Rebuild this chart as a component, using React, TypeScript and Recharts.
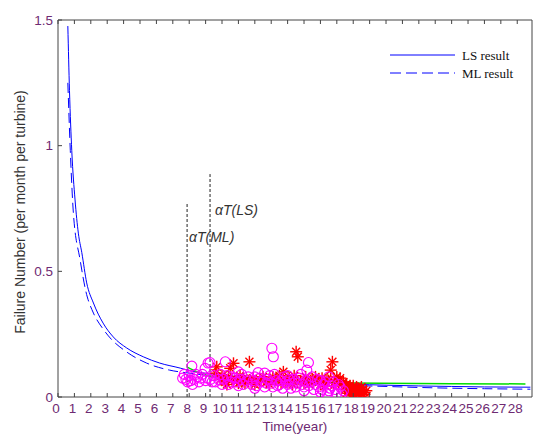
import { ComposedChart, Line, Scatter, XAxis, YAxis, ReferenceLine } from "recharts"

// fitted curves, [time (year), failures per month per turbine]
const lsCurve = [
  [0.6, 1.476], [0.7, 1.22], [0.84, 0.98], [1.04, 0.784], [1.24, 0.652], [1.45, 0.575],
  [1.75, 0.454], [2.16, 0.374], [2.75, 0.294], [3.37, 0.239], [4.19, 0.195], [5.2, 0.16],
  [6.2, 0.135], [7.45, 0.115], [8, 0.105], [10, 0.088], [12, 0.075], [14, 0.066],
  [16, 0.058], [18, 0.051], [20, 0.047], [22, 0.044], [24, 0.042], [26, 0.04], [28.8, 0.039],
]
const mlCurve = [
  [0.6, 1.25], [0.75, 0.98], [0.94, 0.73], [1.35, 0.545], [1.7, 0.42], [2.16, 0.334],
  [2.7, 0.275], [3.18, 0.235], [4.19, 0.179], [5.4, 0.135], [6.8, 0.107], [8, 0.095],
  [10, 0.08], [12, 0.068], [14, 0.059], [16, 0.052], [18, 0.046], [20, 0.042],
  [22, 0.038], [24, 0.035], [26, 0.033], [28.8, 0.031],
]
const greenFit = [
  [7.85, 0.12], [8.5, 0.1], [9.4, 0.08], [11, 0.07], [13.8, 0.06], [17.6, 0.056],
  [24, 0.053], [28.5, 0.052],
]

// observed failure rates
const circles = [
  [7.6, 0.075], [7.7, 0.09], [7.8, 0.07], [7.9, 0.06], [8.0, 0.085], [8.1, 0.065], [8.16, 0.123],
  [8.2, 0.05], [8.3, 0.07], [8.4, 0.09], [8.5, 0.08], [8.6, 0.06], [8.7, 0.075], [8.8, 0.09],
  [8.97, 0.114], [9.0, 0.065], [9.1, 0.075], [9.15, 0.135], [9.27, 0.137], [9.3, 0.07], [9.4, 0.06],
  [9.5, 0.085], [9.6, 0.06], [9.8, 0.07], [9.9, 0.09], [10.0, 0.05], [10.1, 0.07], [10.2, 0.14],
  [10.3, 0.085], [10.4, 0.05], [10.5, 0.06], [10.6, 0.08], [10.8, 0.075], [10.9, 0.06], [11.0, 0.045],
  [11.0, 0.1], [11.1, 0.07], [11.2, 0.09], [11.3, 0.05], [11.5, 0.065], [11.6, 0.08], [11.8, 0.05],
  [11.9, 0.065], [12.0, 0.08], [12.0, 0.035], [12.1, 0.045], [12.2, 0.097], [12.3, 0.075], [12.4, 0.06],
  [12.6, 0.04], [12.6, 0.095], [12.7, 0.055], [12.8, 0.07], [12.9, 0.085], [13.0, 0.055], [13.04, 0.194],
  [13.1, 0.04], [13.13, 0.16], [13.2, 0.09], [13.3, 0.065], [13.4, 0.045], [13.5, 0.05], [13.6, 0.065],
  [13.7, 0.035], [13.8, 0.08], [13.9, 0.06], [14.0, 0.05], [14.0, 0.085], [14.1, 0.07], [14.2, 0.035],
  [14.3, 0.055], [14.4, 0.07], [14.5, 0.04], [14.6, 0.055], [14.7, 0.075], [14.8, 0.09], [14.9, 0.05],
  [15.0, 0.04], [15.0, 0.025], [15.1, 0.065], [15.17, 0.107], [15.27, 0.137], [15.3, 0.045], [15.4, 0.06],
  [15.5, 0.08], [15.6, 0.03], [15.7, 0.05], [15.8, 0.07], [15.9, 0.04], [16.0, 0.02], [16.0, 0.065],
  [16.1, 0.03], [16.2, 0.05], [16.3, 0.06], [16.4, 0.012], [16.5, 0.025], [16.5, 0.08], [16.6, 0.035],
  [16.7, 0.045], [16.8, 0.06], [16.9, 0.03], [17.0, 0.015], [17.1, 0.05], [17.2, 0.04], [17.3, 0.012],
  [17.4, 0.025],
]
const stars = [
  [9.6, 0.095], [9.68, 0.12], [9.9, 0.07], [10.0, 0.085], [10.2, 0.06], [10.3, 0.05], [10.4, 0.08],
  [10.5, 0.114], [10.6, 0.07], [10.7, 0.134], [10.9, 0.065], [11.0, 0.055], [11.1, 0.085], [11.3, 0.075],
  [11.4, 0.055], [11.6, 0.065], [11.67, 0.14], [11.9, 0.075], [12.0, 0.05], [12.1, 0.06], [12.3, 0.07],
  [12.5, 0.08], [12.7, 0.06], [12.9, 0.05], [13.1, 0.08], [13.3, 0.07], [13.5, 0.085], [13.6, 0.055],
  [13.74, 0.1], [13.9, 0.06], [14.0, 0.065], [14.1, 0.075], [14.3, 0.05], [14.4, 0.085], [14.52, 0.18],
  [14.6, 0.06], [14.62, 0.16], [14.8, 0.065], [15.0, 0.055], [15.1, 0.08], [15.3, 0.05], [15.4, 0.065],
  [15.5, 0.07], [15.7, 0.08], [15.9, 0.06], [16.0, 0.05], [16.1, 0.075], [16.3, 0.045], [16.4, 0.07],
  [16.5, 0.065], [16.63, 0.107], [16.73, 0.14], [16.8, 0.045], [16.9, 0.055], [17.0, 0.08], [17.1, 0.065],
  [17.2, 0.075], [17.3, 0.05], [17.4, 0.06], [17.5, 0.045], [17.5, 0.03], [17.6, 0.015], [17.6, 0.05],
  [17.7, 0.04], [17.7, 0.03], [17.8, 0.02], [17.8, 0.045], [17.9, 0.035], [17.9, 0.01], [18.0, 0.01],
  [18.0, 0.045], [18.0, 0.03], [18.1, 0.025], [18.1, 0.005], [18.2, 0.015], [18.2, 0.04], [18.3, 0.035],
  [18.3, 0.01], [18.4, 0.02], [18.4, 0.03], [18.5, 0.01], [18.5, 0.04], [18.6, 0.028], [18.6, 0.01],
  [18.7, 0.018], [18.8, 0.025],
]

const xTicks = Array.from({ length: 29 }, (_, i) => i)
const yTicks = [0, 0.5, 1, 1.5]
const alphaML = { t: 7.87, top: 0.772 }
const alphaLS = { t: 9.27, top: 0.887 }

const toRows = (pts: number[][]) => pts.map(([t, v]) => ({ t, v }))

const W = 533
const H = 437
const PLOT_H = 377
const axisColor = "#444"
const tickColor = "#6e2a72"
const blue = "#0000ff"
const font = "Arial, Liberation Sans"

const XTick = ({ x, y, payload }: any) => (
  <g>
    <line x1={x} x2={x} y1={y} y2={y - 4} stroke={axisColor} />
    <line x1={x} x2={x} y1={y - PLOT_H} y2={y - PLOT_H + 4} stroke={axisColor} />
    <text x={x - 2} y={y + 16} textAnchor="middle" fill={tickColor} fontSize={13.5} fontFamily={font}>
      {payload.value}
    </text>
  </g>
)

const YTick = ({ x, y, payload }: any) => (
  <g>
    <line x1={x} x2={x + 4} y1={y} y2={y} stroke={axisColor} />
    <text x={x - 5} y={y + 4.5} textAnchor="end" fill={tickColor} fontSize={13.5} fontFamily={font}>
      {payload.value}
    </text>
  </g>
)

const Ring = ({ cx, cy }: any) => <circle cx={cx} cy={cy} r={5} fill="none" stroke="#ff00ff" strokeWidth={1.1} />

const Star = ({ cx, cy }: any) => (
  <g stroke="#ff0000" strokeWidth={1.4}>
    <line x1={cx - 6} x2={cx + 6} y1={cy} y2={cy} />
    <line x1={cx} x2={cx} y1={cy - 6} y2={cy + 6} />
    <line x1={cx - 4} x2={cx + 4} y1={cy - 4} y2={cy + 4} />
    <line x1={cx - 4} x2={cx + 4} y1={cy + 4} y2={cy - 4} />
  </g>
)

export default function App() {
  return (
    <div style={{ position: "relative", width: W, height: H, background: "#fff" }}>
      <style>{"body{margin:0}"}</style>
      <ComposedChart width={W} height={H} margin={{ top: 20, right: 1, left: 0, bottom: 0 }}>
        <XAxis
          dataKey="t"
          type="number"
          domain={[0, 28.9]}
          ticks={xTicks}
          interval={0}
          height={40}
          tickSize={0}
          tickMargin={0}
          tickLine={false}
          tick={<XTick />}
          stroke={axisColor}
          allowDataOverflow
        />
        <YAxis
          type="number"
          domain={[0, 1.5]}
          ticks={yTicks}
          width={58}
          tickSize={0}
          tickMargin={0}
          tickLine={false}
          tick={<YTick />}
          stroke={axisColor}
          allowDataOverflow
        />
        <ReferenceLine y={1.5} stroke={axisColor} />
        <ReferenceLine x={28.9} stroke={axisColor} />
        <ReferenceLine
          segment={[{ x: alphaML.t, y: 0 }, { x: alphaML.t, y: alphaML.top }]}
          stroke="#222"
          strokeDasharray="3 2"
        />
        <ReferenceLine
          segment={[{ x: alphaLS.t, y: 0 }, { x: alphaLS.t, y: alphaLS.top }]}
          stroke="#222"
          strokeDasharray="3 2"
        />
        <Line data={toRows(lsCurve)} dataKey="v" type="monotone" stroke={blue} strokeWidth={1} dot={false} isAnimationActive={false} />
        <Line data={toRows(mlCurve)} dataKey="v" type="monotone" stroke={blue} strokeWidth={1} strokeDasharray="10 5" dot={false} isAnimationActive={false} />
        <Scatter data={toRows(stars)} dataKey="v" shape={<Star />} isAnimationActive={false} />
        <Scatter data={toRows(circles)} dataKey="v" shape={<Ring />} isAnimationActive={false} />
        <Line data={toRows(greenFit)} dataKey="v" type="monotone" stroke="#00dd00" strokeWidth={1.5} dot={false} isAnimationActive={false} />
      </ComposedChart>

      <div
        style={{
          position: "absolute", left: 20, top: 212, transform: "translate(-50%, -50%) rotate(-90deg)",
          whiteSpace: "nowrap", fontFamily: font, fontSize: 14, color: "#333",
        }}
      >
        Failure Number (per month per turbine)
      </div>
      <div
        style={{
          position: "absolute", left: 295, top: 426, transform: "translate(-50%, -50%)",
          whiteSpace: "nowrap", fontFamily: font, fontSize: 13.5, color: tickColor,
        }}
      >
        Time(year)
      </div>

      <div style={{ position: "absolute", left: 215, top: 210, transform: "translateY(-50%)", fontFamily: font, fontStyle: "italic", fontSize: 14, color: "#333", whiteSpace: "nowrap" }}>
        αT(LS)
      </div>
      <div style={{ position: "absolute", left: 189, top: 237, transform: "translateY(-50%)", fontFamily: font, fontStyle: "italic", fontSize: 14, color: "#333", whiteSpace: "nowrap" }}>
        αT(ML)
      </div>

      <svg style={{ position: "absolute", left: 0, top: 0 }} width={W} height={H} pointerEvents="none">
        <line x1={390} x2={455} y1={55} y2={55} stroke={blue} strokeWidth={1} />
        <line x1={390} x2={455} y1={73} y2={73} stroke={blue} strokeWidth={1} strokeDasharray="11 5" />
        <text x={462} y={59.5} fontFamily="Liberation Serif, Times New Roman" fontSize={13} fill="#111">LS result</text>
        <text x={462} y={77.5} fontFamily="Liberation Serif, Times New Roman" fontSize={13} fill="#111">ML result</text>
      </svg>
    </div>
  )
}
